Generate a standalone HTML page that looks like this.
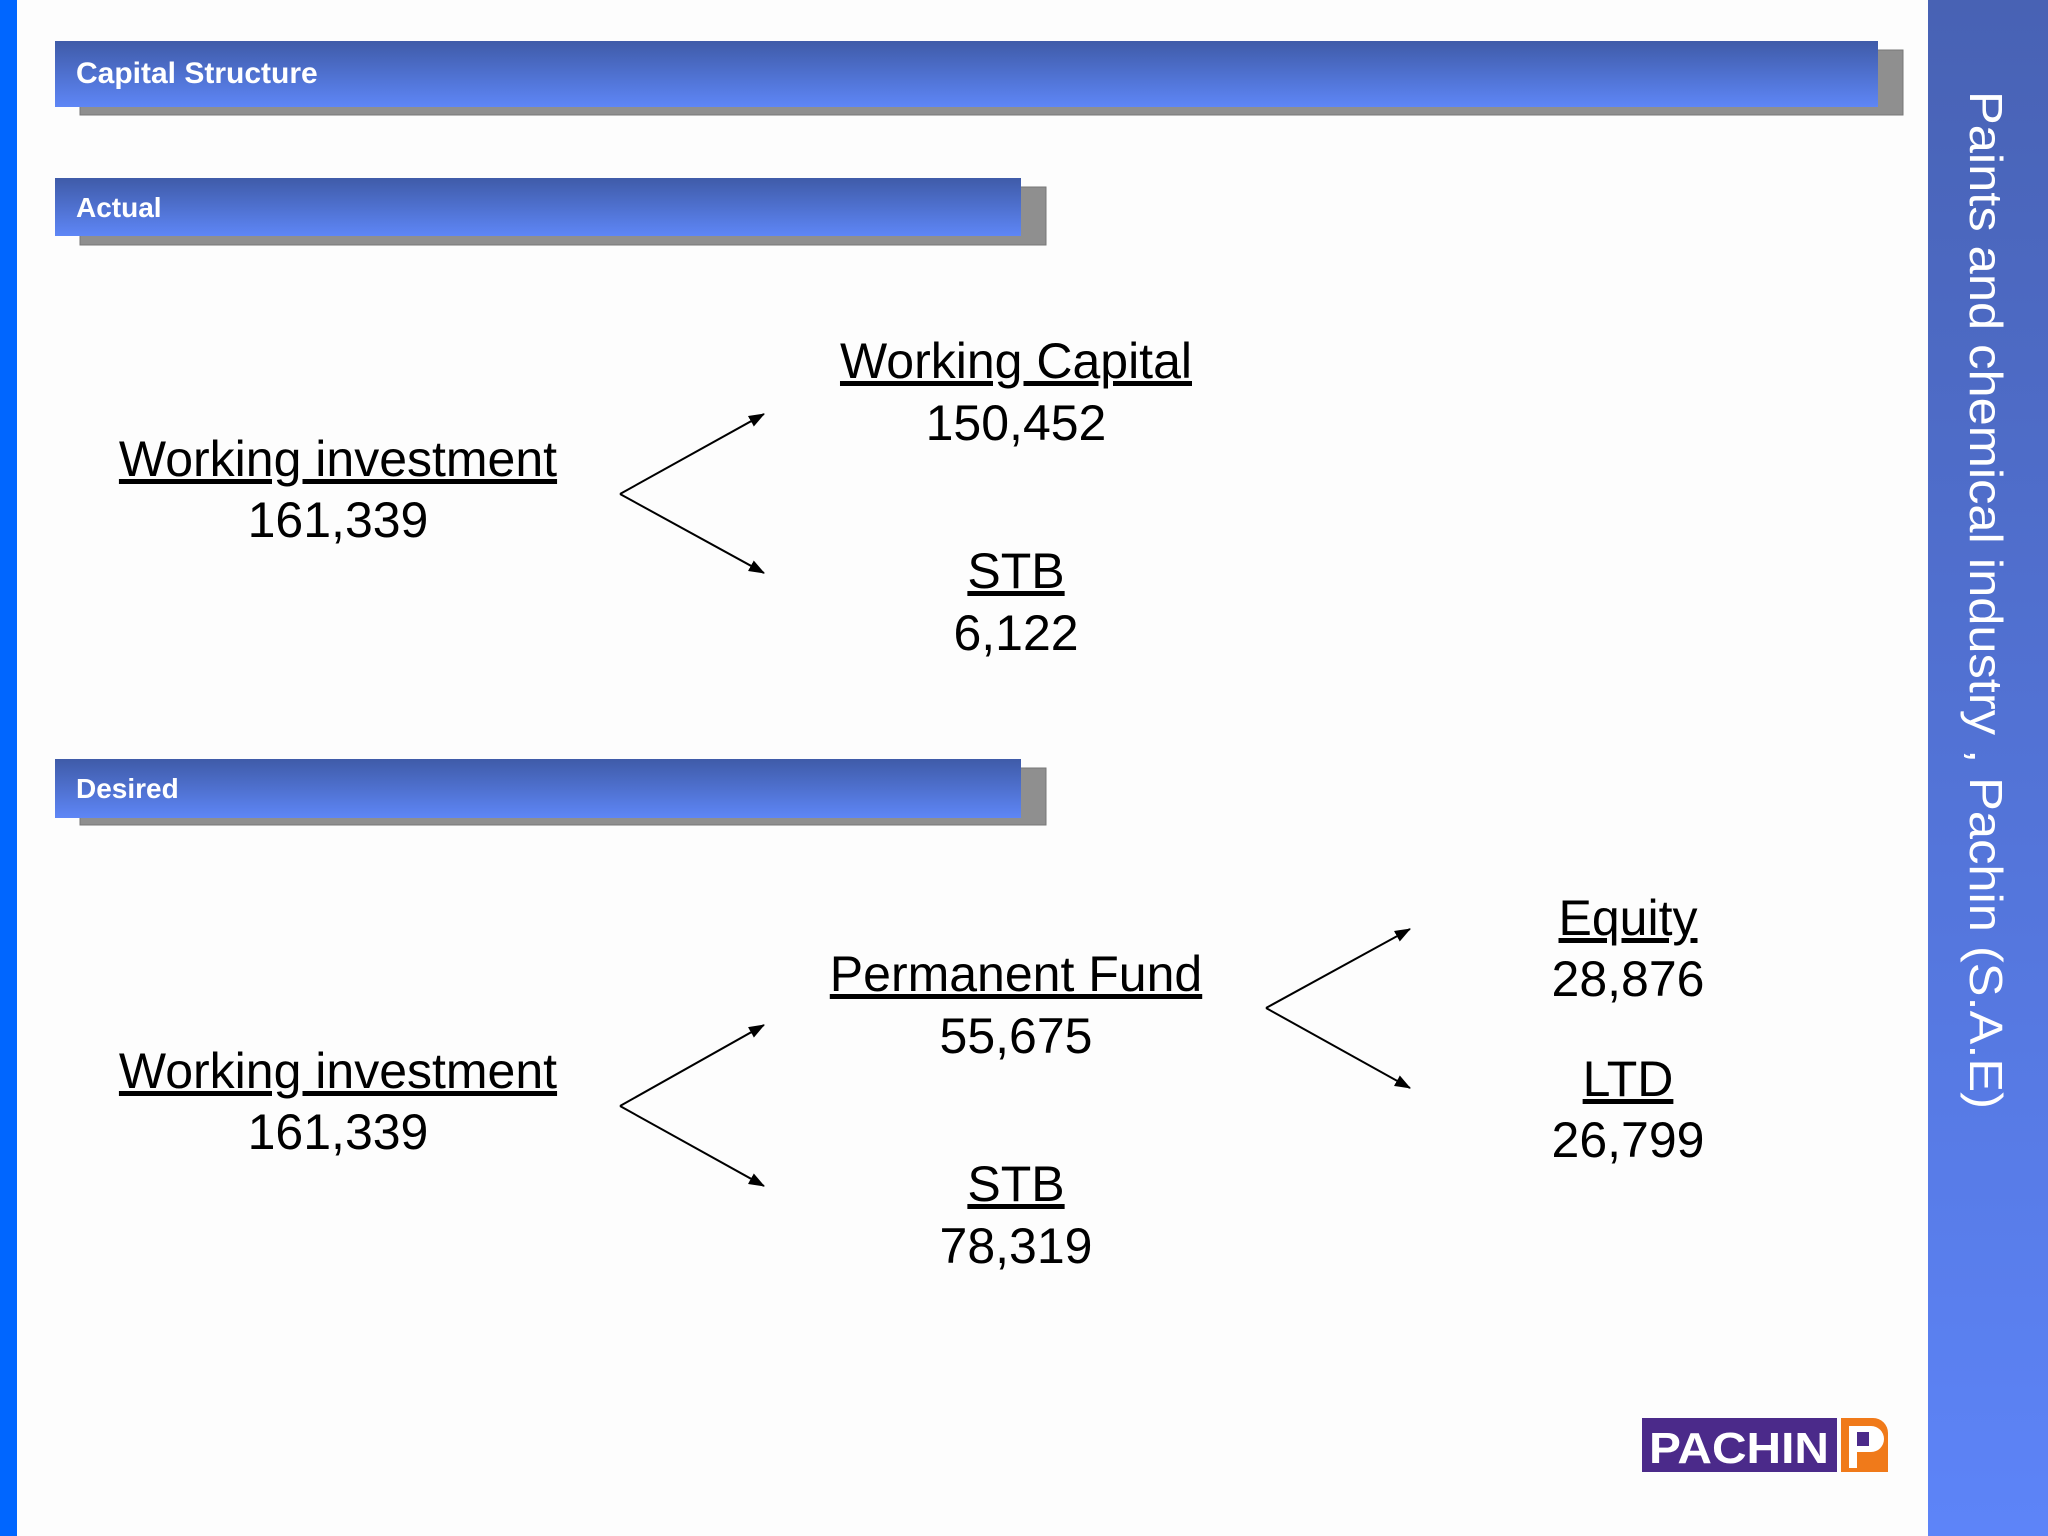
<!DOCTYPE html>
<html><head><meta charset="utf-8"><style>
html,body{margin:0;padding:0;background:#fdfdfd;}
svg{display:block;}
text{font-family:"Liberation Sans",sans-serif;}
</style></head><body>
<svg width="2048" height="1536" viewBox="0 0 2048 1536">
<defs>
<linearGradient id="bar" x1="0" y1="0" x2="0" y2="1"><stop offset="0" stop-color="#3f5ba8"/><stop offset="1" stop-color="#5e86f6"/></linearGradient>
<linearGradient id="side" x1="0" y1="0" x2="0" y2="1"><stop offset="0" stop-color="#4862b4"/><stop offset="1" stop-color="#5d84f8"/></linearGradient>
<marker id="ah" markerWidth="16" markerHeight="12" refX="15" refY="6" orient="auto" markerUnits="userSpaceOnUse"><path d="M0,0 L16,6 L0,12 z" fill="#000"/></marker>
</defs>
<rect width="2048" height="1536" fill="#fdfdfd"/>
<rect x="0" y="0" width="17" height="1536" fill="#0066ff"/>
<g>
<rect x="1928" y="0" width="120" height="1536" fill="url(#side)"/>
<text transform="translate(1970,91) rotate(90)" font-size="46" fill="#fff" textLength="1018" lengthAdjust="spacingAndGlyphs">Paints and chemical industry , Pachin (S.A.E)</text>
</g>
<g>
<rect x="80" y="50" width="1823" height="65" fill="#8f8f8f" stroke="#777"/>
<rect x="55" y="41" width="1823" height="66" fill="url(#bar)"/>
<text x="76" y="83" font-size="30" font-weight="bold" fill="#fff">Capital Structure</text>
</g>
<g>
<rect x="80" y="187" width="966" height="58" fill="#8f8f8f" stroke="#777"/>
<rect x="55" y="178" width="966" height="58" fill="url(#bar)"/>
<text x="76" y="217" font-size="28" font-weight="bold" fill="#fff">Actual</text>
</g>
<g>
<rect x="80" y="768" width="966" height="57" fill="#8f8f8f" stroke="#777"/>
<rect x="55" y="759" width="966" height="59" fill="url(#bar)"/>
<text x="76" y="798" font-size="28" font-weight="bold" fill="#fff">Desired</text>
</g>
<g font-size="50" fill="#000" text-anchor="middle">
<text x="338" y="476" text-decoration="underline">Working investment</text>
<text x="338" y="537">161,339</text>
<text x="1016" y="378" text-decoration="underline">Working Capital</text>
<text x="1016" y="440">150,452</text>
<text x="1016" y="588" text-decoration="underline">STB</text>
<text x="1016" y="650">6,122</text>
<text x="338" y="1088" text-decoration="underline">Working investment</text>
<text x="338" y="1149">161,339</text>
<text x="1016" y="991" text-decoration="underline">Permanent Fund</text>
<text x="1016" y="1053">55,675</text>
<text x="1016" y="1201" text-decoration="underline">STB</text>
<text x="1016" y="1263">78,319</text>
<text x="1628" y="935" text-decoration="underline">Equity</text>
<text x="1628" y="996">28,876</text>
<text x="1628" y="1096" text-decoration="underline">LTD</text>
<text x="1628" y="1157">26,799</text>
</g>
<g stroke="#000" stroke-width="2" fill="none" marker-end="url(#ah)">
<line x1="620" y1="494" x2="764" y2="414"/>
<line x1="620" y1="494" x2="764" y2="573"/>
<line x1="620" y1="1106" x2="764" y2="1025"/>
<line x1="620" y1="1106" x2="764" y2="1186"/>
<line x1="1266" y1="1008" x2="1410" y2="929"/>
<line x1="1266" y1="1008" x2="1410" y2="1088"/>
</g>
<g>
<rect x="1642" y="1418" width="195" height="54" fill="#4b2a8a"/>
<text x="1739" y="1463" font-size="44" font-weight="bold" fill="#fff" text-anchor="middle" textLength="180" lengthAdjust="spacingAndGlyphs">PACHIN</text>
<path d="M1841,1418 h32 a15,15 0 0 1 15,15 v39 h-47 z" fill="#f07a1a"/>
<path d="M1849,1468 v-42 h22 a11,11 0 0 1 0,26 h-14 v16 z" fill="#fff"/>
<rect x="1857" y="1432" width="12" height="14" fill="#4b2a8a"/>
</g>
</svg>
</body></html>
